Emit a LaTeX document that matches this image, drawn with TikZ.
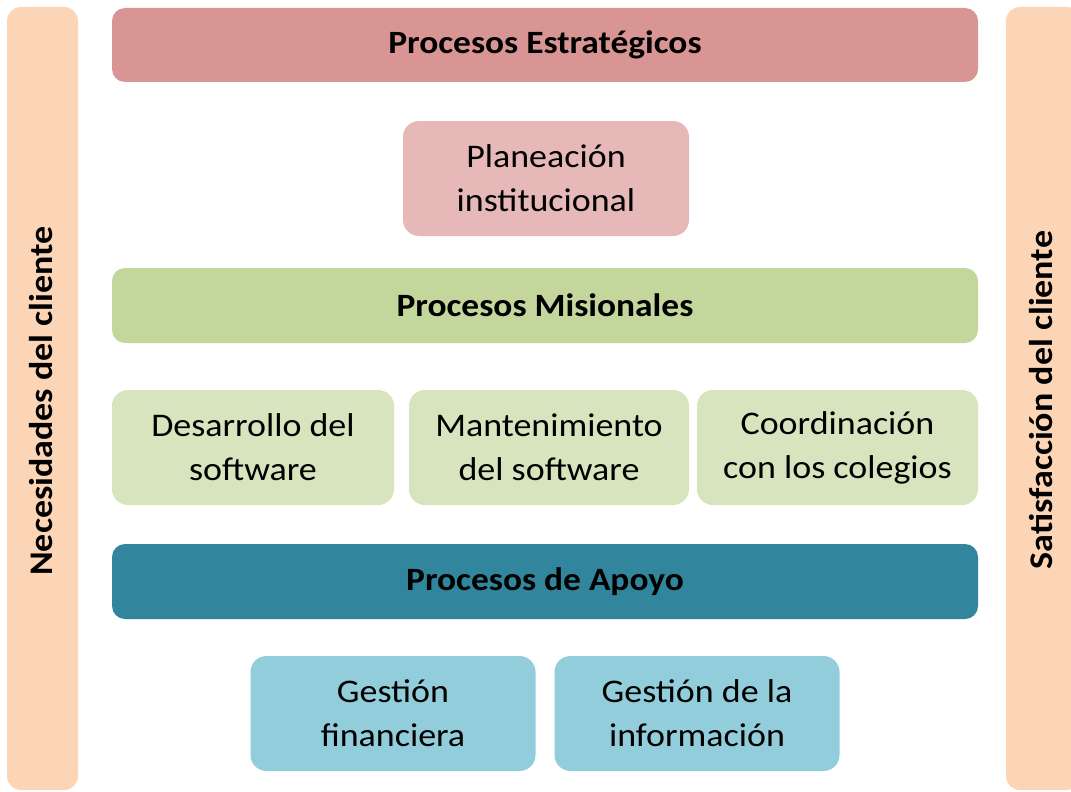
\documentclass[tikz,border=0pt]{standalone}
\usepackage{fontspec}
\setmainfont{Carlito}[FakeStretch=1.09]
\definecolor{peach}{HTML}{FBD5B5}
\definecolor{estr}{HTML}{D99594}
\definecolor{estrl}{HTML}{E6B9B8}
\definecolor{mis}{HTML}{C3D69B}
\definecolor{misl}{HTML}{D7E4BD}
\definecolor{apo}{HTML}{31859C}
\definecolor{apol}{HTML}{92CDDC}
\begin{document}
\begin{tikzpicture}[x=1pt,y=-1pt,
  box/.style={rounded corners=16pt, inner sep=0pt, align=center, text=black,
    font=\fontsize{33}{44}\selectfont},
  bar/.style={box, rounded corners=13pt, font=\bfseries\fontsize{32.5}{38}\selectfont},
  side/.style={rounded corners=14pt, fill=peach, inner sep=0pt}]
\clip (0,0) rectangle (1071,792);
\fill[white] (0,0) rectangle (1071,792);
% side bars
\node[side, minimum width=71pt, minimum height=783pt] (left) at (42.5,398.5) {};
\node[side, minimum width=75pt, minimum height=783pt] (right) at (1043.5,398.5) {};
\node[rotate=90, font=\bfseries\fontsize{33}{38}\selectfont] (ltxt) at (41,401) {Necesidades del cliente};
\node[rotate=90, font=\bfseries\fontsize{33}{38}\selectfont] (rtxt) at (1041,400) {Satisfacción del cliente};
% strategic
\node[bar, fill=estr, minimum width=866pt, minimum height=74pt] (estr) at (545,45) {Procesos Estratégicos};
\node[box, fill=estrl, minimum width=286pt, minimum height=115pt] (plan) at (546,178.5) {Planeación\\institucional};
% misionales
\node[bar, fill=mis, minimum width=866pt, minimum height=75pt] (mis) at (545,305.5) {Procesos Misionales};
\node[box, fill=misl, minimum width=282pt, minimum height=115pt] (des) at (253,447.5) {Desarrollo del\\software};
\node[box, fill=misl, minimum width=280pt, minimum height=115pt] (man) at (549,447.5) {Mantenimiento\\del software};
\node[box, fill=misl, minimum width=281pt, minimum height=115pt] (coo) at (837.5,447.5) {Coordinación\\con los colegios};
% apoyo
\node[bar, fill=apo, minimum width=866pt, minimum height=75pt] (apo) at (545,581.5) {Procesos de Apoyo};
\node[box, fill=apol, minimum width=285pt, minimum height=115pt] (gf) at (393,713.5) {Gestión\\financiera};
\node[box, fill=apol, minimum width=285pt, minimum height=115pt] (gi) at (697,713.5) {Gestión de la\\información};
\end{tikzpicture}
\end{document}
